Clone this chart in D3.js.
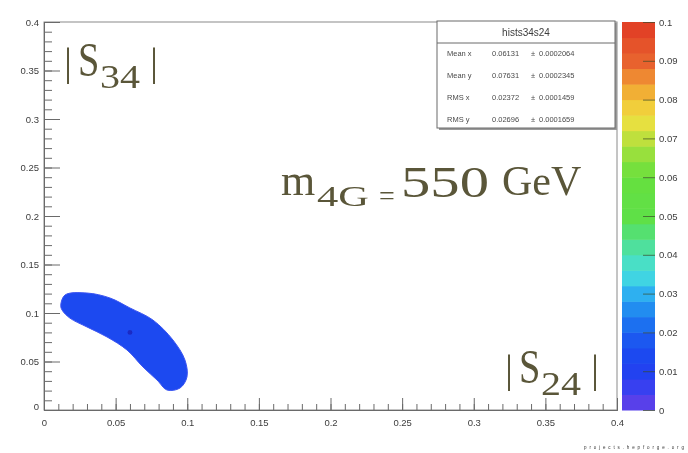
<!DOCTYPE html>
<html>
<head>
<meta charset="utf-8">
<script src="https://cdn.jsdelivr.net/npm/d3@7"></script>
<style>
  html, body { margin: 0; padding: 0; background: #fff; }
  svg { display: block; }
</style>
</head>
<body>
<svg id="chart" width="688" height="453"></svg>
<script>
// ---- data ----
const histName = "hists34s24";
const xTicks = [0, 0.05, 0.1, 0.15, 0.2, 0.25, 0.3, 0.35, 0.4];
const yTicks = [0, 0.05, 0.1, 0.15, 0.2, 0.25, 0.3, 0.35, 0.4];
const zTicks = [0, 0.01, 0.02, 0.03, 0.04, 0.05, 0.06, 0.07, 0.08, 0.09, 0.1];
// outline of the filled region (|S24|, |S34|), traced clockwise
const regionX = [0.0117, 0.0147, 0.030, 0.046, 0.060, 0.076, 0.090, 0.0984, 0.0998, 0.095, 0.0859, 0.0789, 0.0691, 0.0579, 0.044, 0.030, 0.018, 0.0126];
const regionY = [0.108, 0.1186, 0.1206, 0.1155, 0.1052, 0.0928, 0.0722, 0.0515, 0.034, 0.0227, 0.0206, 0.0309, 0.0443, 0.0619, 0.0753, 0.0856, 0.0948, 0.1031];
const regionZ = 0.013;
const peak = [0.060, 0.080];
// statistics box
const statLabels = ["Mean x", "Mean y", "RMS x", "RMS y"];
const statValues = ["0.06131", "0.07631", "0.02372", "0.02696"];
const statErrors = ["0.0002064", "0.0002345", "0.0001459", "0.0001659"];
// palette stops along the z axis
const paletteZ = [0, 0.005, 0.01, 0.015, 0.02, 0.025, 0.03, 0.035, 0.04, 0.045, 0.05, 0.06, 0.065, 0.07, 0.075, 0.08, 0.085, 0.09, 0.1];
const paletteC = ["#6a3fe6", "#3d40f0", "#2142f0", "#1e4cf0", "#1e62f0", "#2184f0", "#2eb0f0", "#45dde0", "#4de0b4", "#52e07a", "#5fe046", "#66e040", "#8ee03c", "#bfe03c", "#f0e040", "#f2c236", "#f09232", "#e8622e", "#e03a26"];

// ---- layout ----
const svg = d3.select("#chart");
const L = 44, R = 617, T = 22, B = 410;
const cbL = 622, cbR = 655;
const x = d3.scaleLinear().domain([0, 0.4]).range([L, R]);
const y = d3.scaleLinear().domain([0, 0.4]).range([B, T]);
const z = d3.scaleLinear().domain([0, 0.1]).range([B, T]);
const color = d3.scaleLinear().domain(paletteZ).range(paletteC);

const defs = svg.append("defs");
defs.append("filter").attr("id", "soft")
  .append("feGaussianBlur").attr("stdDeviation", 0.55);

const g = svg.append("g").attr("filter", "url(#soft)")
  .style("font-family", "Liberation Sans, Arial, sans-serif");

// frame
g.append("rect").attr("x", L).attr("y", T).attr("width", R - L).attr("height", B - T)
  .attr("fill", "#fff").attr("stroke", "#8a8a8a").attr("stroke-width", 1);

// filled region
const pts = regionX.map((v, i) => [x(v), y(regionY[i])]);
g.append("path")
  .attr("d", d3.line().curve(d3.curveCatmullRomClosed.alpha(0.5))(pts))
  .attr("fill", color(regionZ)).attr("stroke", "#3a55f2").attr("stroke-width", 1);
g.append("circle").attr("cx", x(peak[0])).attr("cy", y(peak[1])).attr("r", 2.4)
  .attr("fill", "#1a2cc4");

// axes (ticks pointing inward)
const minor = d3.range(0, 0.4001, 0.01);
function styleAxis(sel) {
  sel.select(".domain").attr("stroke", "#6a6a6a");
  sel.selectAll(".tick line").attr("stroke", "#6a6a6a");
  sel.selectAll("text").attr("fill", "#3c3c3c").style("font-size", "9.5px");
}
g.append("g").attr("transform", `translate(0,${B})`)
  .call(d3.axisBottom(x).tickValues(minor).tickSize(-6).tickFormat(""))
  .call(styleAxis);
g.append("g").attr("transform", `translate(0,${B})`)
  .call(d3.axisBottom(x).tickValues(xTicks).tickSize(-12).tickPadding(9).tickFormat(d3.format("~g")))
  .call(styleAxis);
g.append("g").attr("transform", `translate(${L},0)`)
  .call(d3.axisLeft(y).tickValues(minor).tickSize(-8).tickFormat(""))
  .call(styleAxis);
g.append("g").attr("transform", `translate(${L},0)`)
  .call(d3.axisLeft(y).tickValues(yTicks).tickSize(-16).tickPadding(5).tickFormat(d3.format("~g")))
  .call(styleAxis)
  .call(a => a.selectAll(".tick").filter(d => d === 0).select("text").attr("dy", "-0.1em"));

// colour bar
const bands = d3.range(0, 0.1, 0.004);
g.append("g").selectAll("rect").data(bands).join("rect")
  .attr("x", cbL).attr("width", cbR - cbL)
  .attr("y", d => z(d + 0.004)).attr("height", d => z(d) - z(d + 0.004) + 0.5)
  .attr("fill", d => color(d + 0.002));
const zAxis = g.append("g").attr("transform", `translate(${cbR},0)`)
  .call(d3.axisRight(z).tickValues(zTicks).tickSize(-12).tickPadding(4).tickFormat(d3.format("~g")))
  .call(styleAxis);
zAxis.select(".domain").remove();
zAxis.selectAll(".tick line").attr("stroke", "#3a4a2a").attr("stroke-opacity", 0.7);

// statistics box
const sb = { x: 437, y: 21, w: 178, h: 107 };
g.append("rect").attr("x", sb.x + 2).attr("y", sb.y + 2).attr("width", sb.w).attr("height", sb.h)
  .attr("fill", "#9a9a9a");
g.append("rect").attr("x", sb.x).attr("y", sb.y).attr("width", sb.w).attr("height", sb.h)
  .attr("fill", "#fff").attr("stroke", "#6a6a6a");
g.append("line").attr("x1", sb.x).attr("x2", sb.x + sb.w).attr("y1", sb.y + 22).attr("y2", sb.y + 22)
  .attr("stroke", "#6a6a6a");
g.append("text").attr("x", sb.x + sb.w / 2).attr("y", sb.y + 15).attr("text-anchor", "middle")
  .style("font-size", "10px").attr("fill", "#3c3c3c").text(histName);
const rows = g.append("g").selectAll("g").data(statLabels).join("g")
  .attr("transform", (d, i) => `translate(0,${sb.y + 35 + i * 22})`)
  .style("font-size", "7.5px").attr("fill", "#4a4a4a");
rows.append("text").attr("x", sb.x + 10).text(d => d);
rows.append("text").attr("x", sb.x + 55).text((d, i) => statValues[i]);
rows.append("text").attr("x", sb.x + 94).text("\u00b1");
rows.append("text").attr("x", sb.x + 102).text((d, i) => statErrors[i]);

// small credit line
svg.append("text").attr("x", 584).attr("y", 449).attr("textLength", 100)
  .style("font-family", "Liberation Sans, Arial, sans-serif").style("font-size", "4.5px")
  .attr("fill", "#333").text("projects.hepforge.org");

// annotations
const ink = "#5a5639";
const ann = svg.append("g").style("font-family", "Liberation Serif, Times New Roman, serif").attr("fill", ink);
function absLabel(x0, base, sub) {
  ann.append("text").attr("x", x0).attr("y", base - 1).style("font-size", "40px").text("|");
  ann.append("text").attr("x", x0 + 14).attr("y", base).style("font-size", "48px")
    .attr("transform", `translate(${x0 + 14},0) scale(0.8,1) translate(${-(x0 + 14)},0)`).text("S");
  ann.append("text").attr("x", x0 + 36).attr("y", base + 12).style("font-size", "34px")
    .attr("textLength", 40).attr("lengthAdjust", "spacingAndGlyphs").text(sub);
  ann.append("text").attr("x", x0 + 86).attr("y", base - 1).style("font-size", "40px").text("|");
}
absLabel(64, 76, "34");
absLabel(505, 383, "24");

ann.append("text").attr("x", 281).attr("y", 195).style("font-size", "44px").text("m");
ann.append("text").attr("x", 317).attr("y", 206).style("font-size", "30px")
  .attr("textLength", 52).attr("lengthAdjust", "spacingAndGlyphs").text("4G");
ann.append("text").attr("x", 379).attr("y", 205).style("font-size", "28px").text("=");
ann.append("text").attr("x", 401).attr("y", 197).attr("textLength", 88).attr("lengthAdjust", "spacingAndGlyphs")
  .style("font-size", "44px").text("550");
ann.append("text").attr("x", 502).attr("y", 195).style("font-size", "42px").text("GeV");
</script>
</body>
</html>
